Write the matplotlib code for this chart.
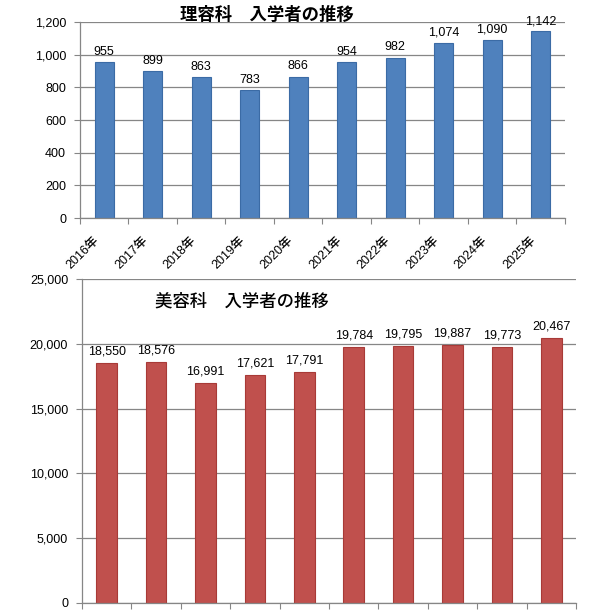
import numpy as np
import matplotlib
matplotlib.use("Agg")
import matplotlib.pyplot as plt
import matplotlib.ticker as mticker
import matplotlib.transforms as mtransforms

plt.rcParams['font.family'] = ['Liberation Sans', 'Noto Sans CJK JP']

# data
years = ["2016年", "2017年", "2018年", "2019年", "2020年",
         "2021年", "2022年", "2023年", "2024年", "2025年"]
riyou_counts = [955, 899, 863, 783, 866, 954, 982, 1074, 1090, 1142]
biyou_counts = [18550, 18576, 16991, 17621, 17791, 19784, 19795, 19887, 19773, 20467]
riyou_title = "理容科　入学者の推移"
biyou_title = "美容科　入学者の推移"

grid_color = "#868686"
blue_face, blue_edge = "#4F81BD", "#3B6BA5"
red_face, red_edge = "#C0504D", "#A83A37"
tick_fs = 9
title_font = ['Noto Sans CJK JP', 'DejaVu Sans']


def style_axes(ax, ymax, ystep):
    ax.set_xlim(-0.5, len(years) - 0.5)
    ax.set_ylim(0, ymax)
    ax.set_yticks(np.arange(0, ymax + 1, ystep))
    ax.yaxis.set_major_formatter(mticker.FuncFormatter(lambda v, p: f"{int(v):,}"))
    ax.set_xticks(np.arange(len(years) + 1) - 0.5)
    ax.set_xticklabels([])
    ax.grid(axis="y", color=grid_color, linewidth=0.9)
    ax.set_axisbelow(True)
    for side in ("top", "right"):
        ax.spines[side].set_visible(False)
    for side in ("left", "bottom"):
        ax.spines[side].set_color(grid_color)
        ax.spines[side].set_linewidth(0.9)
    ax.tick_params(axis="both", direction="out", length=4, color=grid_color,
                   labelsize=tick_fs, pad=6)


def label_bars(ax, values, gap):
    for i, v in enumerate(values):
        ax.annotate(f"{v:,}", (i, v), xytext=(0, gap), textcoords="offset points",
                    ha="center", va="bottom", fontsize=tick_fs)


fig = plt.figure(figsize=(6.0, 6.1), dpi=100)

# 理容科
ax1 = fig.add_axes([0.1333, 0.6426, 0.8083, 0.3213])
style_axes(ax1, 1200, 200)
x = np.arange(len(years))
ax1.bar(x, riyou_counts, width=0.4, color=blue_face, edgecolor=blue_edge, linewidth=0.8)
label_bars(ax1, riyou_counts, 3)
trans = ax1.get_xaxis_transform() + mtransforms.ScaledTranslation(-7 / 100, -21 / 100, fig.dpi_scale_trans)
for i, lab in enumerate(years):
    ax1.text(i, 0, lab, transform=trans, rotation=45, rotation_mode="anchor",
             ha="right", va="center", fontsize=9, fontweight="medium")
fig.text(0.445, 0.975, riyou_title, ha="center", va="center", fontsize=12.5,
         fontweight="bold", family=title_font)

# 美容科
ax2 = fig.add_axes([0.1367, 0.0115, 0.8233, 0.5311])
style_axes(ax2, 25000, 5000)
ax2.bar(x, biyou_counts, width=0.42, color=red_face, edgecolor=red_edge, linewidth=0.8)
label_bars(ax2, biyou_counts, 4)
fig.text(0.403, 0.505, biyou_title, ha="center", va="center", fontsize=12.5,
         fontweight="medium", family=title_font)

fig.savefig("out.png", dpi=100)
